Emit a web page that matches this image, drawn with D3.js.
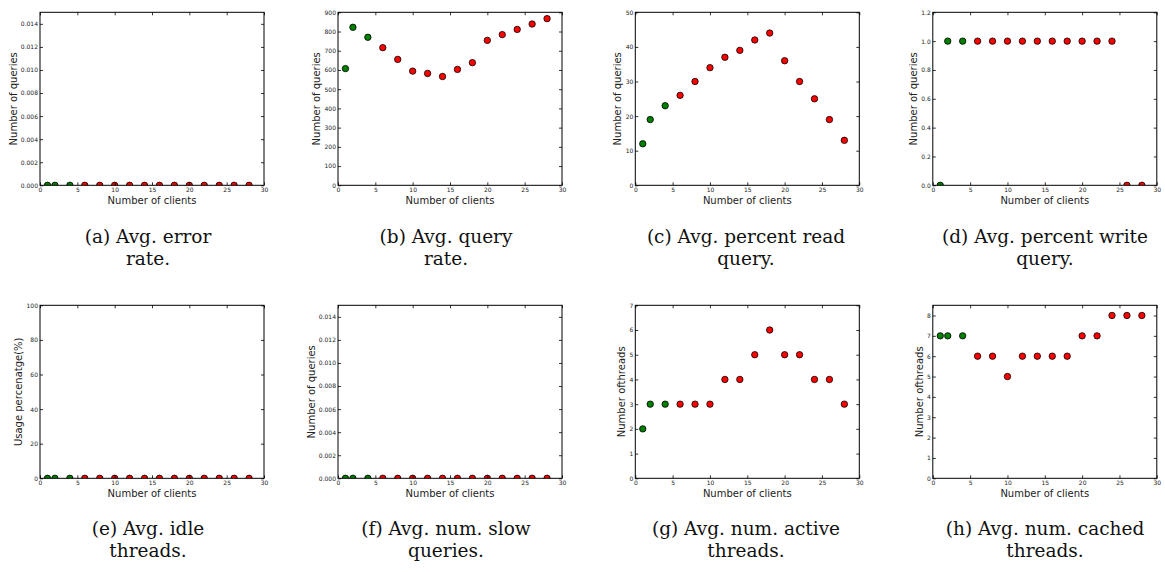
<!DOCTYPE html>
<html>
<head>
<meta charset="utf-8">
<script src="https://cdn.jsdelivr.net/npm/d3@7"></script>
<style>
  html, body { margin: 0; padding: 0; background: #fff; }
  svg { display: block; }
  .tick text { font-family: "DejaVu Sans", sans-serif; font-size: 6px; fill: #222; }
  .axlabel { font-family: "DejaVu Sans", sans-serif; font-size: 10px; fill: #222; }
  .caption { font-family: "DejaVu Serif", "Liberation Serif", serif; font-size: 18.5px; fill: #111; }
</style>
</head>
<body>
<svg id="chart" width="1165" height="572"></svg>
<script>
// ---- data ----
const clients = [1, 2, 4, 6, 8, 10, 12, 14, 16, 18, 20, 22, 24, 26, 28];
const warmupCount = 3; // first three points drawn green, rest red
const errorRate      = [0, 0, 0, 0, 0, 0, 0, 0, 0, 0, 0, 0, 0, 0, 0];
const queryRate      = [607, 822, 770, 716, 655, 594, 582, 566, 603, 638, 754, 784, 811, 839, 867];
const pctReadQuery   = [12, 19, 23, 26, 30, 34, 37, 39, 42, 44, 36, 30, 25, 19, 13];
const pctWriteQuery  = [0, 1, 1, 1, 1, 1, 1, 1, 1, 1, 1, 1, 1, 0, 0];
const idleThreads    = [0, 0, 0, 0, 0, 0, 0, 0, 0, 0, 0, 0, 0, 0, 0];
const slowQueries    = [0, 0, 0, 0, 0, 0, 0, 0, 0, 0, 0, 0, 0, 0, 0];
const activeThreads  = [2, 3, 3, 3, 3, 3, 4, 4, 5, 6, 5, 5, 4, 4, 3];
const cachedThreads  = [7, 7, 7, 6, 6, 5, 6, 6, 6, 6, 7, 7, 8, 8, 8];

const xTicks = [0, 5, 10, 15, 20, 25, 30];
const xLabel = "Number of clients";
const yLabels = ["Number of queries", "Number of queries", "Number of queries", "Number of queries",
                 "Usage percenatge(%)", "Number of queries", "Number ofthreads", "Number ofthreads"];
const captions = [
  ["(a) Avg. error", "rate."],
  ["(b) Avg. query", "rate."],
  ["(c) Avg. percent read", "query."],
  ["(d) Avg. percent write", "query."],
  ["(e) Avg. idle", "threads."],
  ["(f) Avg. num. slow", "queries."],
  ["(g) Avg. num. active", "threads."],
  ["(h) Avg. num. cached", "threads."]
];
const yMaxes = [0.015, 900, 50, 1.2, 100, 0.015, 7, 8.5];
const yTicks = [
  [0, 0.002, 0.004, 0.006, 0.008, 0.010, 0.012, 0.014],
  [0, 100, 200, 300, 400, 500, 600, 700, 800, 900],
  [0, 10, 20, 30, 40, 50],
  [0, 0.2, 0.4, 0.6, 0.8, 1.0, 1.2],
  [0, 20, 40, 60, 80, 100],
  [0, 0.002, 0.004, 0.006, 0.008, 0.010, 0.012, 0.014],
  [0, 1, 2, 3, 4, 5, 6, 7],
  [0, 1, 2, 3, 4, 5, 6, 7, 8]
];
const yFormats = [".3f", "d", "d", ".1f", "d", ".3f", "d", "d"];
const series = [errorRate, queryRate, pctReadQuery, pctWriteQuery, idleThreads, slowQueries, activeThreads, cachedThreads];

// ---- layout ----
const colLeft = [40, 338, 635.3, 932.8];
const plotW = 224;
const rowTop = [12.3, 305.3];
const plotH = 173;
const figCenter = [148, 446, 746, 1045];
const capY = [[243, 265], [535, 557]];

const svg = d3.select("#chart");

series.forEach((vals, i) => {
  const col = i % 4, row = Math.floor(i / 4);
  const L = colLeft[col], T = rowTop[row];
  const x = d3.scaleLinear().domain([0, 30]).range([L, L + plotW]);
  const y = d3.scaleLinear().domain([0, yMaxes[i]]).range([T + plotH, T]);
  const g = svg.append("g");

  const clipId = "clip" + i;
  svg.append("clipPath").attr("id", clipId)
    .append("rect").attr("x", L).attr("y", T).attr("width", plotW).attr("height", plotH);

  // points
  g.append("g").attr("clip-path", `url(#${clipId})`)
    .selectAll("circle").data(vals).join("circle")
    .attr("cx", (d, j) => x(clients[j]))
    .attr("cy", d => y(d))
    .attr("r", 3.2)
    .attr("fill", (d, j) => j < warmupCount ? "#008000" : "#ff0000")
    .attr("stroke", "#000").attr("stroke-width", 0.8);

  // axes (inward ticks)
  const fmtY = d3.format(yFormats[i]);
  const bottom = g.append("g").attr("transform", `translate(0,${T + plotH})`)
    .call(d3.axisBottom(x).tickValues(xTicks).tickSize(-3).tickPadding(2).tickFormat(d3.format("d")));
  const top = g.append("g").attr("transform", `translate(0,${T})`)
    .call(d3.axisTop(x).tickValues(xTicks).tickSize(-3).tickFormat(""));
  const left = g.append("g").attr("transform", `translate(${L},0)`)
    .call(d3.axisLeft(y).tickValues(yTicks[i]).tickSize(-3).tickPadding(2).tickFormat(fmtY));
  const right = g.append("g").attr("transform", `translate(${L + plotW},0)`)
    .call(d3.axisRight(y).tickValues(yTicks[i]).tickSize(-3).tickFormat(""));
  [bottom, top, left, right].forEach(a => {
    a.select(".domain").remove();
    a.selectAll(".tick line").attr("stroke", "#000").attr("stroke-width", 0.8);
  });

  // frame
  g.append("rect").attr("x", L).attr("y", T).attr("width", plotW).attr("height", plotH)
    .attr("fill", "none").attr("stroke", "#000").attr("stroke-width", 1);

  // labels
  let tickW = 0;
  left.selectAll(".tick text").each(function () { tickW = Math.max(tickW, this.getBBox().width); });
  g.append("text").attr("class", "axlabel")
    .attr("transform", `translate(${L - tickW - 6},${T + plotH / 2}) rotate(-90)`)
    .attr("text-anchor", "middle")
    .text(yLabels[i]);
  g.append("text").attr("class", "axlabel")
    .attr("x", L + plotW / 2).attr("y", T + plotH + 18.5)
    .attr("text-anchor", "middle")
    .text(xLabel);

  // caption
  captions[i].forEach((line, k) => {
    svg.append("text").attr("class", "caption")
      .attr("x", figCenter[col]).attr("y", capY[row][k])
      .attr("text-anchor", "middle")
      .style("white-space", "pre")
      .text(line);
  });
});
</script>
</body>
</html>
